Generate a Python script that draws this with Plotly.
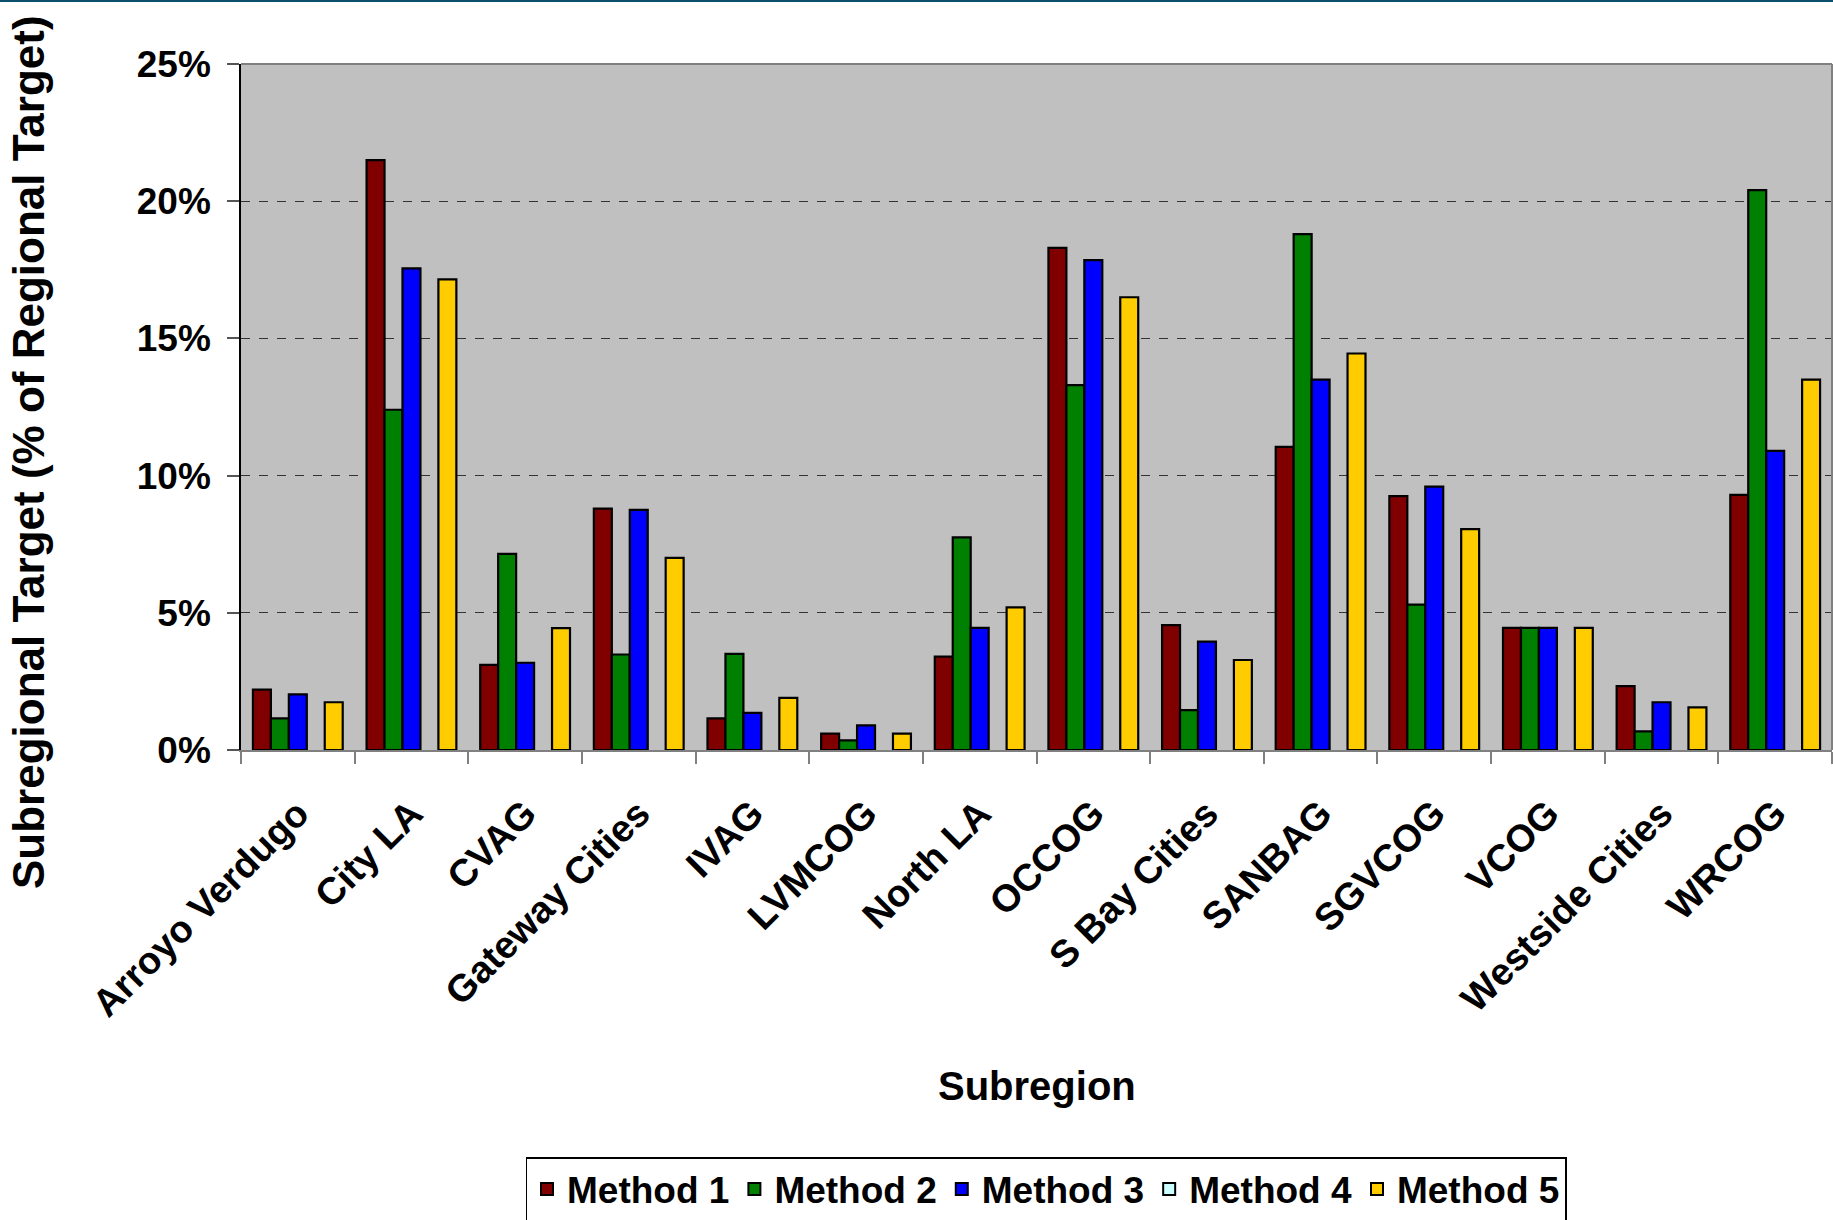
import plotly.graph_objects as go

# Subregions along the x axis
subregions = ["Arroyo Verdugo", "City LA", "CVAG", "Gateway Cities", "IVAG",
              "LVMCOG", "North LA", "OCCOG", "S Bay Cities", "SANBAG",
              "SGVCOG", "VCOG", "Westside Cities", "WRCOG"]

# Subregional target as % of regional target, per allocation method
method_1 = [2.2, 21.5, 3.1, 8.8, 1.15, 0.6, 3.4, 18.3, 4.55, 11.05, 9.25, 4.45, 2.33, 9.3]
method_2 = [1.15, 12.4, 7.15, 3.48, 3.5, 0.35, 7.75, 13.3, 1.45, 18.8, 5.3, 4.45, 0.68, 20.4]
method_3 = [2.03, 17.55, 3.18, 8.75, 1.35, 0.9, 4.45, 17.85, 3.95, 13.5, 9.6, 4.45, 1.74, 10.9]
method_4 = [None, None, None, None, None, None, None, None, None, None, None, None, None, None]
method_5 = [1.74, 17.15, 4.44, 7.0, 1.9, 0.6, 5.2, 16.5, 3.28, 14.45, 8.05, 4.45, 1.55, 13.5]

y_ticks = [0, 5, 10, 15, 20, 25]
y_tick_labels = ["0%", "5%", "10%", "15%", "20%", "25%"]

series = [
    ("Method 1", method_1, "#800000"),
    ("Method 2", method_2, "#008000"),
    ("Method 3", method_3, "#0000ff"),
    ("Method 4", method_4, "#ccffff"),
    ("Method 5", method_5, "#ffcc00"),
]

FONT = "Liberation Sans, Arial, Helvetica, sans-serif"

fig = go.Figure()
for name, vals, color in series:
    fig.add_trace(go.Bar(
        name=name, x=subregions, y=vals,
        marker=dict(color=color, line=dict(color="#000000", width=2.2)),
    ))

W, H = 1833, 1220
L, R, T, B = 241, 1, 64, 470
plot_w = W - L - R
plot_h = H - T - B


def px_to_paper_x(px):
    return (px - L) / plot_w


def px_to_paper_y(py):
    return (H - B - py) / plot_h


fig.update_layout(
    width=W, height=H,
    margin=dict(l=L, r=R, t=T, b=B, autoexpand=False),
    paper_bgcolor="#ffffff",
    plot_bgcolor="#c0c0c0",
    barmode="group",
    bargap=0.21,
    bargroupgap=0,
    font=dict(family=FONT, color="#000000", weight="bold"),
    showlegend=True,
    legend=dict(
        orientation="h",
        x=px_to_paper_x(1046), xanchor="center",
        yref="container", y=1 - 1157 / H, yanchor="top",
        font=dict(family=FONT, size=37, color="#000000", weight="bold"),
        bgcolor="#ffffff", bordercolor="#000000", borderwidth=1.5,
        itemsizing="constant", traceorder="normal",
    ),
    xaxis=dict(
        type="category",
        showline=True, linecolor="#808080", linewidth=2,
        ticks="outside", ticklen=12, tickcolor="#808080", tickwidth=1.5,
        tickson="boundaries",
        tickangle=-45,
        tickfont=dict(family=FONT, size=38, color="#000000", weight="bold"),
        ticklabelstandoff=24,
        showgrid=False, automargin=False,
    ),
    yaxis=dict(
        range=[0, 25],
        tickvals=y_ticks, ticktext=y_tick_labels,
        showline=True, linecolor="#000000", linewidth=1.5,
        ticks="outside", ticklen=12, tickcolor="#555555", tickwidth=1.5,
        tickfont=dict(family=FONT, size=37, color="#000000", weight="bold"),
        ticklabelstandoff=9,
        showgrid=True, gridcolor="#333333", gridwidth=1, griddash="dash",
        zeroline=False, automargin=False,
    ),
    annotations=[
        dict(text="Subregion", xref="paper", yref="paper",
             x=px_to_paper_x(1037), y=px_to_paper_y(1086),
             xanchor="center", yanchor="middle", showarrow=False,
             font=dict(family=FONT, size=40, color="#000000", weight="bold")),
        dict(text="Subregional Target (% of Regional Target)",
             xref="paper", yref="paper",
             x=px_to_paper_x(28), y=px_to_paper_y(452),
             xanchor="center", yanchor="middle", showarrow=False,
             textangle=-90,
             font=dict(family=FONT, size=44, color="#000000", weight="bold")),
    ],
    shapes=[
        # top and right edges of the plot frame
        dict(type="line", xref="paper", yref="paper", x0=0, x1=1, y0=1, y1=1,
             line=dict(color="#808080", width=2)),
        dict(type="line", xref="paper", yref="paper", x0=1, x1=1, y0=0, y1=1,
             line=dict(color="#808080", width=2)),
        # header rule along the top of the page
        dict(type="line", xref="paper", yref="paper",
             x0=px_to_paper_x(0), x1=px_to_paper_x(W),
             y0=px_to_paper_y(1), y1=px_to_paper_y(1),
             line=dict(color="#0b4f6c", width=2)),
    ],
)

fig.write_html("out.html")
